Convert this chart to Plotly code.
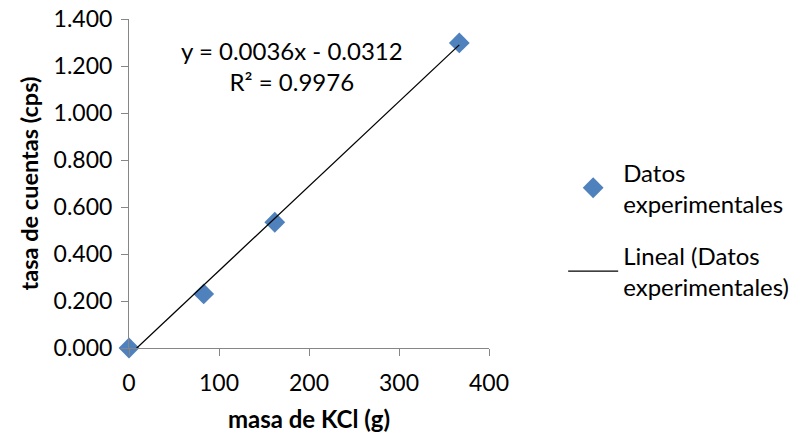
import plotly.graph_objects as go

# Measured count rate versus KCl mass
masa_kcl = [0, 83, 162, 367]
tasa_cps = [0.000, 0.230, 0.535, 1.298]

# Linear trendline coefficients (as reported on the chart)
pendiente = 0.0036
ordenada = -0.0312
r2 = 0.9976

x_ticks = [0, 100, 200, 300, 400]
y_ticks = [0.0, 0.2, 0.4, 0.6, 0.8, 1.0, 1.2, 1.4]

FONT = "Lato, Carlito, Calibri, sans-serif"
AXIS_COLOR = "#868686"

x_fit = [min(masa_kcl), max(masa_kcl)]
y_fit = [pendiente * x + ordenada for x in x_fit]

fig = go.Figure()
fig.add_trace(go.Scatter(
    x=masa_kcl, y=tasa_cps, mode="markers",
    name="Datos<br>experimentales", legendgroup="datos",
    marker=dict(symbol="diamond", size=16, color="#4F81BD"),
    cliponaxis=False,
))
fig.add_trace(go.Scatter(
    x=x_fit, y=y_fit, mode="lines",
    name="Lineal (Datos<br>experimentales)", legendgroup="lineal",
    line=dict(color="black", width=1.3),
))

fig.add_annotation(
    x=0.452, y=0.857, xref="paper", yref="paper", showarrow=False,
    xanchor="center", yanchor="middle",
    text=f"y = {pendiente:.4f}x - {abs(ordenada):.4f}<br>R² = {r2:.4f}",
    align="center", font=dict(family=FONT, size=24, color="black"),
)

fig.update_xaxes(
    range=[0, 400], tickvals=x_ticks, ticktext=[str(v) for v in x_ticks],
    showgrid=False, zeroline=False, showline=True, linecolor=AXIS_COLOR, linewidth=1,
    ticks="outside", ticklen=7, tickcolor=AXIS_COLOR, ticklabelstandoff=7,
    automargin=False,
    title=dict(text="<b>masa de KCl (g)</b>", font=dict(family=FONT, size=24, color="black"), standoff=16),
    tickfont=dict(family=FONT, size=23, color="black"),
)
fig.update_yaxes(
    range=[0, 1.4], tickvals=y_ticks, ticktext=[f"{v:.3f}" for v in y_ticks],
    showgrid=False, zeroline=False, showline=True, linecolor=AXIS_COLOR, linewidth=1,
    ticks="outside", ticklen=7, tickcolor=AXIS_COLOR, ticklabelstandoff=4,
    automargin=False,
    title=dict(text="<b>tasa de cuentas (cps)</b>", font=dict(family=FONT, size=23.5, color="black"), standoff=8),
    tickfont=dict(family=FONT, size=23, color="black"),
)

fig.update_layout(
    width=806, height=438,
    margin=dict(l=129, r=294, t=19, b=90),
    paper_bgcolor="white", plot_bgcolor="white",
    font=dict(family=FONT, size=24, color="black"),
    showlegend=True,
    legend=dict(x=1.206, y=0.36, xanchor="left", yanchor="middle",
                font=dict(family=FONT, size=24, color="black"),
                tracegroupgap=18, itemwidth=50, bgcolor="rgba(0,0,0,0)"),
)

fig.write_html("out.html")
